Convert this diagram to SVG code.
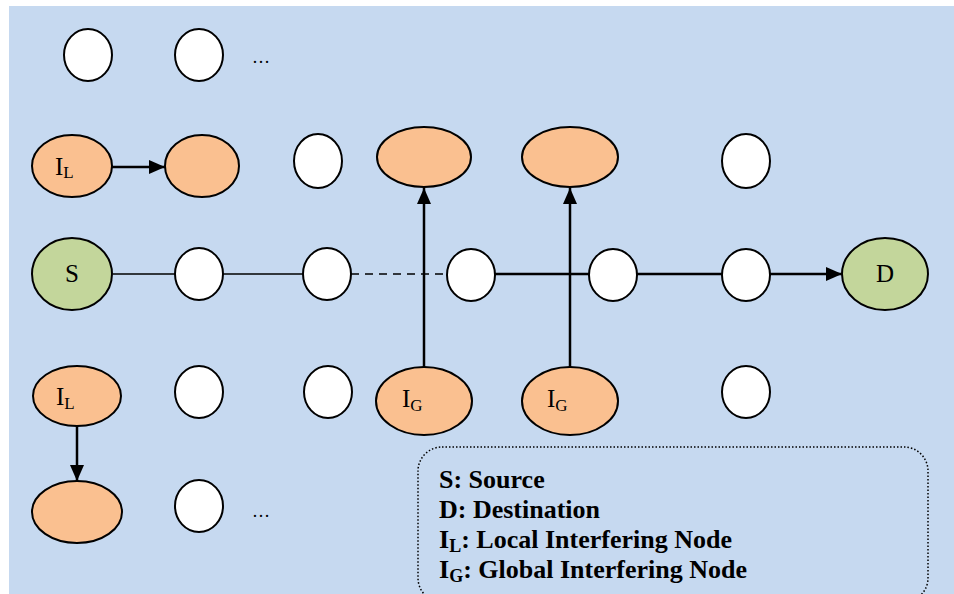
<svg xmlns="http://www.w3.org/2000/svg" width="954" height="594" viewBox="0 0 954 594">
<style>
.node{stroke:#000;stroke-width:2}
.w{fill:#fff}
.o{fill:#FAC090}
.g{fill:#C3D69B}
.lbl{font-family:"Liberation Serif","Times New Roman",serif;font-size:25px;fill:#000}
.sub{font-size:17px}
.thin{stroke:#000;stroke-width:1.5;fill:none}
.thick{stroke:#000;stroke-width:2.5;fill:none}
.leg{font-family:"Liberation Serif","Times New Roman",serif;font-size:26px;font-weight:bold;fill:#000}
.legsub{font-size:18px}
.dots{font-family:"Liberation Serif","Times New Roman",serif;font-size:18px;fill:#000}
</style>
<defs>
<marker id="ah" markerUnits="userSpaceOnUse" markerWidth="16" markerHeight="14" refX="16" refY="7" orient="auto">
<path d="M0,0 L16,7 L0,14 z" fill="#000"/>
</marker>
</defs>
<rect x="9" y="6" width="945" height="588" fill="#C6D9F0"/>

<g id="connectors">
<line class="thin" x1="113" y1="274" x2="175" y2="274"/>
<line class="thin" x1="223" y1="274" x2="303" y2="274"/>
<line class="thin" x1="351" y1="274" x2="447" y2="274" stroke-dasharray="8 6"/>
<line class="thick" x1="495" y1="274" x2="589" y2="274"/>
<line class="thick" x1="637" y1="274" x2="722" y2="274"/>
<line class="thick" x1="770" y1="274" x2="842" y2="274" marker-end="url(#ah)"/>
<line class="thick" x1="112" y1="167" x2="165" y2="167" marker-end="url(#ah)"/>
<line class="thick" x1="424" y1="367" x2="424" y2="188" marker-end="url(#ah)"/>
<line class="thick" x1="570" y1="367" x2="570" y2="188" marker-end="url(#ah)"/>
<line class="thick" x1="77" y1="426" x2="77" y2="481" marker-end="url(#ah)"/>
</g>

<g id="r1a"><ellipse class="node w" cx="88" cy="55" rx="24" ry="26"/></g>
<g id="r1b"><ellipse class="node w" cx="199" cy="55" rx="24" ry="26"/></g>
<text class="dots" x="252" y="63">…</text>

<g id="IL1"><ellipse class="node o" cx="72" cy="166" rx="40" ry="31"/>
<text class="lbl" x="55" y="175">I<tspan class="sub" dy="3">L</tspan></text></g>
<g id="r2b"><ellipse class="node o" cx="202" cy="166" rx="37" ry="31"/></g>
<g id="r2c"><ellipse class="node w" cx="318" cy="161" rx="24" ry="27"/></g>
<g id="r2d"><ellipse class="node o" cx="424" cy="157" rx="47" ry="30"/></g>
<g id="r2e"><ellipse class="node o" cx="570" cy="157" rx="48" ry="30"/></g>
<g id="r2f"><ellipse class="node w" cx="746" cy="161" rx="24" ry="27"/></g>

<g id="S"><ellipse class="node g" cx="72" cy="274" rx="40" ry="36"/>
<text class="lbl" x="72" y="282" text-anchor="middle">S</text></g>
<g id="r3a"><ellipse class="node w" cx="199" cy="274" rx="24" ry="26"/></g>
<g id="r3b"><ellipse class="node w" cx="327" cy="274" rx="24" ry="26"/></g>
<g id="r3c"><ellipse class="node w" cx="471" cy="275" rx="24" ry="26"/></g>
<g id="r3d"><ellipse class="node w" cx="613" cy="275" rx="24" ry="26"/></g>
<g id="r3e"><ellipse class="node w" cx="746" cy="275" rx="24" ry="26"/></g>
<g id="D"><ellipse class="node g" cx="885" cy="274" rx="43" ry="36"/>
<text class="lbl" x="885" y="282" text-anchor="middle">D</text></g>

<g id="IL2"><ellipse class="node o" cx="77" cy="396" rx="44" ry="30"/>
<text class="lbl" x="56" y="405">I<tspan class="sub" dy="4">L</tspan></text></g>
<g id="r4b"><ellipse class="node w" cx="199" cy="392" rx="24" ry="26"/></g>
<g id="r4c"><ellipse class="node w" cx="328" cy="392" rx="24" ry="26"/></g>
<g id="IG1"><ellipse class="node o" cx="424" cy="401" rx="48" ry="34"/>
<text class="lbl" x="402" y="407">I<tspan class="sub" dy="4">G</tspan></text></g>
<g id="IG2"><ellipse class="node o" cx="570" cy="401" rx="48" ry="34"/>
<text class="lbl" x="547" y="407">I<tspan class="sub" dy="4">G</tspan></text></g>
<g id="r4f"><ellipse class="node w" cx="746" cy="392" rx="24" ry="26"/></g>

<g id="r5a"><ellipse class="node o" cx="77" cy="512" rx="45" ry="31"/></g>
<g id="r5b"><ellipse class="node w" cx="199" cy="506" rx="24" ry="26"/></g>
<text class="dots" x="252" y="517">…</text>

<g id="legend">
<rect x="418" y="447" width="510" height="155" rx="24" ry="24" fill="none" stroke="#000" stroke-width="1.5" stroke-dasharray="1.5 2"/>
<text class="leg" x="439" y="488">S: Source</text>
<text class="leg" x="439" y="518">D: Destination</text>
<text class="leg" x="439" y="548">I<tspan class="legsub" dy="4">L</tspan><tspan dy="-4">: Local Interfering Node</tspan></text>
<text class="leg" x="439" y="578">I<tspan class="legsub" dy="4">G</tspan><tspan dy="-4">: Global Interfering Node</tspan></text>
</g>
</svg>
